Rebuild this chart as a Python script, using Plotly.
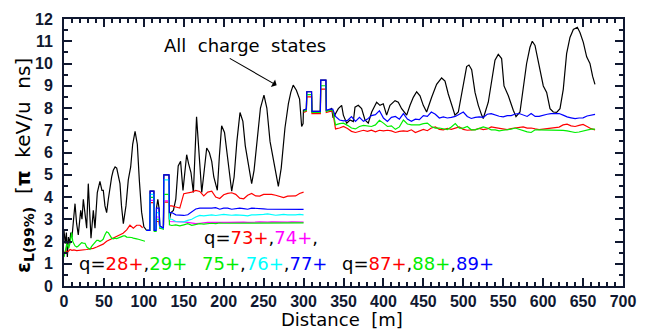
import plotly.graph_objects as go

# ---------------- data ----------------
black_x = [0, 1.5, 3, 4.2, 5.5, 7, 8.5, 10, 12, 13.8,
           15.8, 17.9, 20.9, 22.5, 24.2, 26.3, 28.4, 30.4, 32.2, 33.8,
           36.7, 38.8, 41.7, 45, 47.5, 49.2, 51.3, 53.4, 55.5, 57.6,
           59.7, 61.7, 64, 66, 68, 70.1, 72, 74.3, 77.6, 80.5,
           83.5, 86, 89, 91.8, 94.3, 97.2, 100, 103.5, 107.4, 107.8,
           112.6, 113, 115.3, 115.8, 117.5, 119, 120, 124.5, 125, 131.5,
           132, 134, 137, 140, 143, 146, 149, 153.6, 156, 159,
           162, 166, 170, 172.5, 175, 178.7, 182, 185, 187.6, 192,
           194.5, 197.4, 201, 204, 207, 210, 213, 216.5, 220.4, 224,
           227, 231, 235, 238, 242, 246, 250.4, 254, 258, 263,
           268.4, 272, 276.7, 281, 284, 287, 291, 295, 297.6, 299.4,
           299.8, 303.5, 304, 310, 310.5, 321, 321.5, 328, 328.5, 333,
           335, 337,
           343.5, 347.7, 349.8, 354, 358.1, 362.3, 364.4, 368.5, 372.7, 376.9,
           381, 385.3, 391.5, 395.7, 399.8, 404, 408.2, 414.5, 418.6, 422.8,
           429.1, 433.3, 437.4, 441.6, 445.8, 449.9, 454.1, 460.4, 466.6, 472.9,
           477.1, 481.2, 485.4, 489.6, 493.8, 500, 504.2, 507.1, 510.5, 514.7,
           518.8, 523, 525, 531.3, 535.5, 539.7, 543.8, 548, 551, 556.4,
           562.6, 566, 571, 575.1, 579.3, 583.5, 586.4, 589.8, 593.9, 600.2,
           604.4, 608.6, 612.7, 616.9, 621.1, 625.2, 629.4, 633.6, 637.8, 642.8,
           646.1, 650.3, 654.5, 658.6, 662, 664.9]
black_y = [2.5, 1.9, 2.4, 1.3, 2.2, 1.9, 2.4, 2.2, 3.0, 3.7,
           2.8, 2.3, 3.4, 3.0, 3.9, 3.3, 2.6, 4.6, 3.3, 2.15,
           3.4, 2.6, 4.2, 4.7, 4.3, 4.3, 3.6, 3.3, 3.9, 4.5,
           4.9, 5.2, 5.35, 5.3, 4.9, 4.6, 3.6, 2.8, 3.6, 4.77,
           5.35, 6.37, 6.95, 6.37, 4.77, 3.32, 2.66, 2.5, 2.5, 4.26,
           4.26, 2.5, 2.5, 3.5, 3.9, 3.5, 2.7, 2.6, 4.99, 4.99,
           3.0, 3.3, 3.4, 3.9, 5.4, 5.6, 4.3, 5.9, 5.5, 5.1,
           4.2, 7.6, 5.5, 4.2, 5.0, 6.2, 6.0, 5.6, 4.9, 4.3,
           5.8, 7.2, 6.9, 6.0, 5.1, 4.26, 4.9, 6.5, 7.8, 7.4,
           6.3, 5.4, 4.6, 5.2, 6.6, 8.0, 8.58, 8.0, 6.5, 5.5,
           4.48, 5.3, 7.1, 8.2, 8.7, 9.03, 8.8, 8.4, 7.17, 7.3,
           7.9, 7.95, 8.73, 8.73, 7.85, 7.85, 9.25, 9.25, 7.9, 7.9,
           8.0, 7.55,
           7.97, 8.12, 7.68, 7.32, 7.46, 7.39, 8.04, 8.12, 7.97, 7.46,
           7.32, 7.82, 8.26, 8.12, 8.19, 7.68, 8.12, 8.33, 8.26, 7.97,
           7.68, 8.12, 8.48, 8.73, 8.55, 8.12, 7.82, 8.48, 9.06, 9.35,
           9.21, 8.63, 8.12, 7.68, 7.82, 8.99, 9.86, 9.93, 9.72, 8.70,
           8.12, 7.68, 7.53, 8.26, 9.28, 10.15, 10.41, 10.22, 8.99, 8.55,
           7.90, 7.61, 7.82, 8.84, 10.0, 10.73, 11.0, 10.81, 10.15, 8.99,
           8.70, 7.97, 7.82, 7.80, 7.97, 8.84, 10.44, 11.17, 11.53, 11.63,
           11.39, 10.95, 10.30, 10.0, 9.42, 9.06]

# q = 28+, 29+ (first section)
q28_x = [0, 2, 4, 7.5, 10, 12.5, 15.9, 20, 24, 28.4,
         32, 36.7, 41, 45.1, 49, 53.4, 57.5, 61.8, 66, 70.1,
         74, 78.5, 82.6, 86.8, 91, 95.2, 98.5]
q28_y = [1.4, 1.6, 1.5, 1.64, 1.6, 1.62, 1.59, 1.6, 1.64, 1.64,
         1.67, 1.69, 1.75, 1.8, 1.88, 2.01, 2.08, 2.15, 2.22, 2.30,
         2.37, 2.52, 2.73, 2.6, 2.73, 2.73, 2.62]
q29_x = [0, 2, 3.5, 6, 8, 9.6, 11, 13.8, 16, 17.9,
         20, 22.1, 24, 26.3, 28.5, 30.5, 32.5, 34.6, 36.7, 38.8,
         41, 43, 45.1, 47.2, 49, 51.3, 53.4, 55.5, 57.6, 59.7,
         61.8, 63.9, 66, 68, 70.1, 72.2, 74.3, 76.4, 78.5, 80.6,
         82.6, 84.7, 86.8, 88.9, 91, 93.1, 95.2, 97.2, 99.3, 101.4]
q29_y = [1.3, 1.6, 1.9, 1.7, 2.0, 2.4, 2.0, 1.8, 1.75, 1.8,
         1.9, 1.95, 1.93, 1.92, 1.75, 1.68, 1.65, 1.78, 1.86, 1.95,
         2.05, 2.05, 2.0, 2.05, 2.1, 2.3, 2.44, 2.4, 2.25, 2.15,
         2.12, 2.15, 2.13, 2.15, 2.2, 2.22, 2.25, 2.25, 2.2, 2.2,
         2.2, 2.18, 2.15, 2.12, 2.12, 2.1, 2.08, 2.05, 2.03, 2.01]

# q = 73+ ... 77+ (second section)
mid_x = [103, 107.4, 107.8, 112.6, 113, 115.3, 115.8, 119, 120, 124.5, 125, 131.5, 132,
         135, 140, 145, 150, 155, 160, 165, 170, 175, 180,
         185, 190, 195, 200, 205, 210, 215, 220, 225, 230,
         235, 240, 245, 250, 255, 260, 265, 270, 275, 280,
         285, 290, 295, 300]
q73_y = [2.5, 2.5, 3.75, 3.75, 2.5, 2.5, 2.9, 2.9, 2.6, 2.6, 3.77, 3.77, 3.6,
         3.6, 3.55, 3.5, 4.15, 4.17, 4.22, 4.3, 4.25, 4.05, 4.22,
         4.26, 4.0, 3.93, 4.1, 4.16, 4.19, 4.12, 3.95, 3.92, 4.08,
         4.16, 4.05, 4.04, 4.12, 4.12, 4.12, 4.08, 4.03, 3.97, 4.04,
         4.04, 4.05, 4.16, 4.22]
q74_y = [2.5, 2.5, 3.85, 3.85, 2.5, 2.5, 3.1, 3.1, 2.65, 2.6, 3.83, 3.83, 2.9,
         2.9, 2.88, 2.9, 2.88, 2.86, 2.82, 2.8, 2.82, 2.85, 2.86,
         2.86, 2.85, 2.87, 2.86, 2.86, 2.87, 2.86, 2.88, 2.87, 2.86,
         2.88, 2.87, 2.88, 2.86, 2.87, 2.88, 2.87, 2.87, 2.88, 2.87,
         2.88, 2.87, 2.88, 2.87]
q75_y = [2.5, 2.5, 3.98, 3.98, 2.45, 2.45, 3.0, 3.0, 2.6, 2.55, 4.12, 4.12, 2.75,
         2.72, 2.75, 2.7, 2.75, 2.8, 2.73, 2.78, 2.8, 2.78, 2.8,
         2.82, 2.8, 2.83, 2.82, 2.82, 2.83, 2.82, 2.84, 2.82, 2.83,
         2.85, 2.84, 2.83, 2.85, 2.84, 2.84, 2.85, 2.85, 2.85, 2.84,
         2.85, 2.85, 2.85, 2.84]
q76_y = [2.5, 2.5, 4.12, 4.12, 2.5, 2.5, 3.3, 3.3, 2.65, 2.6, 4.77, 4.77, 3.0,
         3.0, 2.9, 2.88, 2.88, 2.95, 3.0, 3.1, 3.17, 3.15, 3.17,
         3.2, 3.17, 3.2, 3.22, 3.2, 3.18, 3.2, 3.2, 3.17, 3.15,
         3.2, 3.2, 3.2, 3.22, 3.24, 3.2, 3.18, 3.2, 3.22, 3.2,
         3.19, 3.2, 3.22, 3.2]
q77_y = [2.5, 2.5, 4.26, 4.26, 2.5, 2.5, 3.5, 3.5, 2.7, 2.6, 4.99, 4.99, 3.3,
         3.3, 3.2, 3.17, 3.17, 3.2, 3.35, 3.46, 3.5, 3.5, 3.48,
         3.5, 3.52, 3.45, 3.5, 3.5, 3.45, 3.48, 3.5, 3.48, 3.45,
         3.5, 3.5, 3.5, 3.47, 3.45, 3.45, 3.45, 3.44, 3.45, 3.45,
         3.45, 3.44, 3.44, 3.44]

# q = 87+, 88+, 89+ (third section)
end_x = [300, 303.5, 304, 310, 310.5, 321, 321.5, 328, 328.5, 333, 336.5,
         340, 345, 350, 355, 360, 365, 370, 375, 380, 385,
         390, 395, 400, 405, 410, 415, 420, 425, 430, 435,
         440, 445, 450, 455, 460, 465, 470, 475, 480, 485,
         490, 495, 500, 505, 510, 515, 520, 525, 530, 535,
         540, 545, 550, 555, 560, 565, 570, 575, 580, 585,
         590, 595, 600, 605, 610, 615, 620, 625, 630, 635,
         640, 645, 650, 655, 660, 665]
q87_y = [7.8, 7.85, 8.5, 8.5, 7.75, 7.75, 8.85, 8.85, 7.8, 7.85, 7.85,
         7.06, 7.10, 7.17, 7.08, 6.95, 6.90, 6.95, 7.00, 6.95, 7.00,
         6.93, 7.00, 6.97, 7.00, 6.97, 6.90, 6.95, 6.97, 6.95, 7.02,
         6.90, 6.97, 7.04, 6.98, 7.10, 7.15, 7.04, 7.02, 7.08, 7.04,
         7.08, 7.15, 7.04, 7.00, 7.02, 7.03, 7.08, 7.03, 7.06, 7.15,
         7.12, 7.10, 7.06, 7.03, 7.08, 7.10, 7.12, 7.15, 7.10, 7.10,
         7.06, 7.03, 7.05, 7.08, 7.10, 7.12, 7.14, 7.24, 7.27, 7.20,
         7.17, 7.22, 7.26, 7.17, 7.07, 7.02]
q88_y = [7.85, 7.9, 8.6, 8.6, 7.8, 7.8, 9.0, 9.0, 7.85, 7.9, 7.9,
         7.24, 7.30, 7.32, 7.22, 7.10, 7.06, 7.17, 7.22, 7.20, 7.17,
         7.24, 7.45, 7.32, 7.17, 7.20, 7.04, 7.15, 7.46, 7.28, 7.24,
         7.24, 7.24, 7.30, 7.32, 7.17, 7.10, 7.10, 7.06, 7.03, 7.15,
         7.30, 7.10, 7.10, 7.17, 7.02, 7.02, 7.08, 7.15, 7.10, 7.02,
         7.02, 6.97, 7.00, 7.02, 7.05, 7.10, 7.04, 6.97, 6.93, 6.90,
         7.02, 7.02, 7.02, 7.02, 7.00, 6.99, 7.01, 6.99, 6.97, 6.95,
         6.90, 6.92, 6.97, 7.02, 7.05, 7.05]
q89_y = [7.9, 7.95, 8.73, 8.73, 7.85, 7.85, 9.25, 9.25, 7.9, 7.95, 7.95,
         7.62, 7.46, 7.42, 7.44, 7.61, 7.40, 7.58, 7.40, 7.50, 7.66,
         7.70, 7.88, 7.55, 7.40, 7.58, 7.62, 7.50, 7.75, 7.50, 7.40,
         7.50, 7.48, 7.66, 7.62, 7.82, 7.72, 7.55, 7.60, 7.55, 7.58,
         7.62, 7.72, 7.82, 7.62, 7.53, 7.58, 7.60, 7.58, 7.72, 7.75,
         7.68, 7.63, 7.60, 7.66, 7.66, 7.73, 7.75, 7.68, 7.62, 7.75,
         7.62, 7.62, 7.68, 7.72, 7.75, 7.75, 7.75, 7.68, 7.60, 7.56,
         7.52, 7.55, 7.56, 7.64, 7.68, 7.71]

# ---------------- figure ----------------
INK = "#101830"
RED, MAG, GRN, CYN, BLU = "#ff0000", "#ff00ff", "#00ee00", "#00ffff", "#0000ff"
LW = 1.2

series = [
    (black_x, black_y, "#000000"),
    (q28_x, q28_y, RED),
    (q29_x, q29_y, GRN),
    (mid_x, q73_y, RED),
    (mid_x, q74_y, MAG),
    (mid_x, q75_y, GRN),
    (mid_x, q76_y, CYN),
    (mid_x, q77_y, BLU),
    (end_x, q87_y, RED),
    (end_x, q88_y, GRN),
    (end_x, q89_y, BLU),
]

fig = go.Figure()
for xs, ys, col in series:
    fig.add_trace(go.Scatter(x=xs, y=ys, mode="lines",
                             line=dict(color=col, width=LW),
                             hoverinfo="skip", showlegend=False))

tickfont = dict(family="Liberation Sans, Arial, sans-serif", size=16,
                color=INK, weight="bold")
axis_common = dict(showgrid=False, zeroline=False, showline=True,
                   linecolor=INK, linewidth=2, mirror="ticks",
                   ticks="inside", ticklen=8, tickwidth=2, tickcolor=INK,
                   tickfont=tickfont)

fig.update_xaxes(range=[0, 700], tick0=0, dtick=50,
                 minor=dict(dtick=10, ticks="inside", ticklen=4,
                            tickwidth=1.5, tickcolor=INK),
                 **axis_common)
fig.update_yaxes(range=[0, 12], tick0=0, dtick=1, ticklabelstandoff=6,
                 minor=dict(dtick=0.5, ticks="inside", ticklen=4,
                            tickwidth=1.5, tickcolor=INK),
                 **axis_common)

TXT = dict(family="DejaVu Sans, sans-serif", size=18, color="#000000")


def span(t, c):
    return f'<span style="color:{c}">{t}</span>'


annotations = [
    dict(x=16.3, y=1.0, xref="x", yref="y", xanchor="left", yanchor="middle",
         showarrow=False, font=TXT,
         text="q=" + span("28+", RED) + "," + span("29+", GRN)),
    dict(x=172.4, y=2.2, xref="x", yref="y", xanchor="left", yanchor="middle",
         showarrow=False, font=TXT,
         text="q=" + span("73+", RED) + "," + span("74+", MAG) + ","),
    dict(x=170.3, y=1.0, xref="x", yref="y", xanchor="left", yanchor="middle",
         showarrow=False, font=TXT,
         text=span("75+", GRN) + "," + span("76+", CYN) + "," + span("77+", BLU)),
    dict(x=345.6, y=1.0, xref="x", yref="y", xanchor="left", yanchor="middle",
         showarrow=False, font=TXT,
         text="q=" + span("87+", RED) + "," + span("88+", GRN) + "," + span("89+", BLU)),
    dict(x=122.3, y=10.82, xref="x", yref="y", xanchor="left", yanchor="middle",
         showarrow=False, font=dict(family="DejaVu Sans, sans-serif", size=18, color="#000000"),
         text="All  charge  states"),
    dict(x=266.3, y=9.02, ax=205.7, ay=10.27, xref="x", yref="y",
         axref="x", ayref="y", showarrow=True, arrowhead=1, arrowsize=1.3,
         arrowwidth=1.1, arrowcolor="#000000", text=""),
    dict(x=0.497, y=-0.1673, xref="paper", yref="paper", xanchor="center",
         yanchor="bottom", showarrow=False, borderpad=0,
         font=dict(family="DejaVu Sans, sans-serif", size=18, color="#000000"),
         text="Distance  [m]"),
    dict(x=-0.0716, y=0.4527, xref="paper", yref="paper", xanchor="center",
         yanchor="middle", showarrow=False, textangle=-90,
         font=dict(family="DejaVu Sans, sans-serif", size=20, color="#000000"),
         text="<b>ε<sub>L(99%)</sub></b>  [<b>π</b>  keV/u  ns]"),
]

fig.update_layout(width=649, height=332,
                  margin=dict(l=64, r=26, t=11, b=46),
                  paper_bgcolor="white", plot_bgcolor="white",
                  showlegend=False, annotations=annotations)

fig.write_html("out.html")
